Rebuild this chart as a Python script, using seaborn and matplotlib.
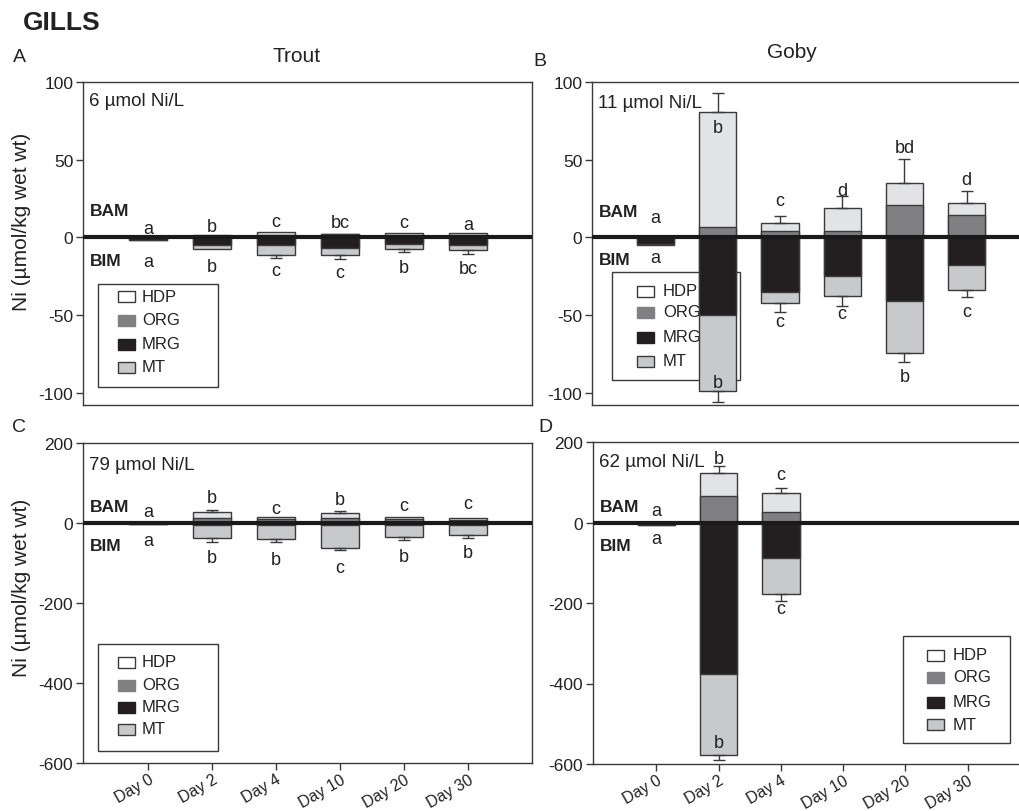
import numpy as np
import matplotlib
matplotlib.use("Agg")
import matplotlib.pyplot as plt
from matplotlib.patches import Rectangle
import seaborn as sns

# ---------------------------------------------------------------- data
days = ["Day 0", "Day 2", "Day 4", "Day 10", "Day 20", "Day 30"]
fractions = ["HDP", "ORG", "MRG", "MT"]

# Trout, 6 umol Ni/L  (BAM = ORG + HDP above zero, BIM = MRG + MT below zero)
org_A = np.array([0.0, 1.0, 1.3, 2.0, 1.3, 1.5])
hdp_A = np.array([0.0, 0.7, 2.2, 0.4, 1.7, 1.5])
mrg_A = np.array([2.0, 5.2, 4.8, 7.0, 4.1, 4.8])
mt_A = np.array([0.0, 2.6, 6.9, 4.7, 3.3, 3.7])
err_hi_A = np.array([np.nan, np.nan, np.nan, np.nan, np.nan, np.nan])
err_lo_A = np.array([np.nan, np.nan, 1.6, 2.0, 2.0, 2.0])
let_top_A = ["a", "b", "c", "bc", "c", "a"]
let_bot_A = ["a", "b", "c", "c", "b", "bc"]

# Goby, 11 umol Ni/L
org_B = np.array([0.5, 6.5, 4.3, 3.9, 20.7, 14.3])
hdp_B = np.array([0.0, 74.5, 4.8, 15.1, 14.1, 7.9])
mrg_B = np.array([4.5, 50.0, 35.4, 25.0, 41.3, 18.0])
mt_B = np.array([0.5, 49.0, 6.6, 12.6, 33.3, 15.7])
err_hi_B = np.array([np.nan, 12.0, 4.4, 7.5, 15.6, 7.4])
err_lo_B = np.array([np.nan, 7.0, 6.0, 6.4, 5.8, 4.8])
let_top_B = ["a", "b", "c", "d", "bd", "d"]
let_bot_B = ["a", "b", "c", "c", "b", "c"]

# Trout, 79 umol Ni/L
org_C = np.array([1.0, 12.0, 10.0, 13.0, 10.0, 7.5])
hdp_C = np.array([0.5, 14.7, 4.0, 11.0, 6.0, 4.2])
mrg_C = np.array([1.5, 4.0, 4.0, 4.0, 4.0, 4.0])
mt_C = np.array([1.0, 34.0, 36.0, 59.0, 32.0, 25.0])
err_hi_C = np.array([np.nan, 5.0, np.nan, 7.0, np.nan, np.nan])
err_lo_C = np.array([np.nan, 10.0, 6.7, 4.5, 6.5, 8.5])
let_top_C = ["a", "b", "c", "b", "c", "c"]
let_bot_C = ["a", "b", "b", "c", "b", "b"]

# Goby, 62 umol Ni/L (no sampling after day 4)
org_D = np.array([0.5, 64.6, 25.7, np.nan, np.nan, np.nan])
hdp_D = np.array([0.0, 59.4, 47.2, np.nan, np.nan, np.nan])
mrg_D = np.array([5.0, 376.0, 87.0, np.nan, np.nan, np.nan])
mt_D = np.array([0.5, 201.0, 91.0, np.nan, np.nan, np.nan])
err_hi_D = np.array([np.nan, 17.6, 14.0, np.nan, np.nan, np.nan])
err_lo_D = np.array([np.nan, 14.0, 17.5, np.nan, np.nan, np.nan])
let_top_D = ["a", "b", "c", "", "", ""]
let_bot_D = ["a", "b", "c", "", "", ""]

# heights at which the significance letters sit
let_top_y_A = [5.5, 7.0, 10.0, 9.5, 9.5, 8.2]
let_bot_y_A = [-15.6, -19.0, -21.5, -22.6, -19.3, -20.4]
let_top_y_B = [13.0, 70.6, 24.0, 30.0, 57.6, 37.4]
let_bot_y_B = [-13.0, -93.5, -54.0, -49.0, -89.6, -47.8]
let_top_y_C = [28.0, 64.0, 36.7, 58.0, 43.0, 47.5]
let_bot_y_C = [-44.0, -86.0, -91.7, -111.0, -83.0, -73.0]
let_top_y_D = [31.0, 160.0, 120.0, 0, 0, 0]
let_bot_y_D = [-39.0, -546.0, -213.0, 0, 0, 0]

# ---------------------------------------------------------------- style
sns.set_style("white")
plt.rcParams["font.family"] = ["Liberation Sans", "DejaVu Sans"]
plt.rcParams["axes.unicode_minus"] = False

C_HDP = "#e2e3e5"
C_ORG = "#808083"
C_MRG = "#231f20"
C_MT = "#c8c9cb"
C_EDGE = "#3a3a3a"
C_TXT = "#222222"

W, H = 1019, 812
fig = plt.figure(figsize=(W / 100, H / 100), dpi=100)


def fx(x):
    return x / W


def fy(y):
    return 1 - y / H


def panel(l, t, r, b):
    return fig.add_axes([fx(l), fy(b), fx(r) - fx(l), fy(t) - fy(b)])


axA = panel(83, 83, 532, 406)
axB = panel(592, 83, 1029, 406)
axC = panel(83, 444, 532, 764)
axD = panel(593, 443, 1030, 765)

idx = np.arange(len(days))


def stacked(ax, org, hdp, mrg, mt, err_hi, err_lo):
    bam = org + hdp
    bim = -(mrg + mt)
    common = dict(order=days, saturation=1, width=0.6, edgecolor=C_EDGE,
                  linewidth=1, errorbar=None, ax=ax, zorder=1)
    sns.barplot(x=days, y=bam, color=C_HDP, **common)
    sns.barplot(x=days, y=org, color=C_ORG, **common)
    sns.barplot(x=days, y=bim, color=C_MT, **common)
    sns.barplot(x=days, y=-mrg, color=C_MRG, **common)
    m = ~np.isnan(err_hi)
    if m.any():
        ax.errorbar(idx[m], bam[m], yerr=[np.zeros(m.sum()), err_hi[m]],
                    fmt="none", ecolor=C_EDGE, elinewidth=1, capsize=4.5,
                    capthick=1, zorder=2)
    m = ~np.isnan(err_lo)
    if m.any():
        ax.errorbar(idx[m], bim[m], yerr=[err_lo[m], np.zeros(m.sum())],
                    fmt="none", ecolor=C_EDGE, elinewidth=1, capsize=4.5,
                    capthick=1, zorder=2)
    ax.axhline(0, color="#1a1a1a", lw=3.0, zorder=3)


def letters(ax, top, top_y, bot, bot_y):
    for i, (s, y) in enumerate(zip(top, top_y)):
        if s:
            ax.text(i, y, s, ha="center", va="center", fontsize=13, color=C_TXT, zorder=4)
    for i, (s, y) in enumerate(zip(bot, bot_y)):
        if s:
            ax.text(i, y, s, ha="center", va="center", fontsize=13, color=C_TXT, zorder=4)


def legend_box(ax, box, rows_y, patch_x, text_x):
    l, t, r, b = box
    ax.add_patch(Rectangle((fx(l), fy(b)), fx(r) - fx(l), fy(t) - fy(b),
                           transform=fig.transFigure, facecolor="white",
                           edgecolor=C_EDGE, lw=1, zorder=0.5, clip_on=False))
    fills = {"HDP": "white", "ORG": C_ORG, "MRG": C_MRG, "MT": C_MT}
    edges = {"HDP": C_EDGE, "ORG": C_ORG, "MRG": C_MRG, "MT": C_EDGE}
    for name, yc in zip(fractions, rows_y):
        ax.add_patch(Rectangle((fx(patch_x), fy(yc + 5.5)), fx(17), 11 / H,
                               transform=fig.transFigure, facecolor=fills[name],
                               edgecolor=edges[name], lw=1, zorder=0.6, clip_on=False))
        ax.text(fx(text_x), fy(yc), name, transform=fig.transFigure, ha="left",
                va="center", fontsize=12, color=C_TXT, zorder=0.7)


stacked(axA, org_A, hdp_A, mrg_A, mt_A, err_hi_A, err_lo_A)
stacked(axB, org_B, hdp_B, mrg_B, mt_B, err_hi_B, err_lo_B)
stacked(axC, org_C, hdp_C, mrg_C, mt_C, err_hi_C, err_lo_C)
stacked(axD, org_D, hdp_D, mrg_D, mt_D, err_hi_D, err_lo_D)

letters(axA, let_top_A, let_top_y_A, let_bot_A, let_bot_y_A)
letters(axB, let_top_B, let_top_y_B, let_bot_B, let_bot_y_B)
letters(axC, let_top_C, let_top_y_C, let_bot_C, let_bot_y_C)
letters(axD, let_top_D, let_top_y_D, let_bot_D, let_bot_y_D)

legend_box(axA, (98, 285, 218, 388), [297, 321, 345, 368], 118, 142)
legend_box(axB, (612, 273, 740, 381), [292, 313, 338, 362], 637, 663)
legend_box(axC, (98, 645, 218, 752), [663, 686, 708, 730], 118, 142)
legend_box(axD, (903, 637, 1010, 744), [656, 678, 703, 725], 927, 953)

conc = {axA: ("6 \u00b5mol Ni/L", 88), axB: ("11 \u00b5mol Ni/L", 87),
        axC: ("79 \u00b5mol Ni/L", 147), axD: ("62 \u00b5mol Ni/L", 151)}
bam_bim_y = {axA: (17, -15), axB: (16.3, -14), axC: (40, -57), axD: (40, -57)}

for ax, lim, ticks in [(axA, (-108, 100), [-100, -50, 0, 50, 100]),
                       (axB, (-108, 100), [-100, -50, 0, 50, 100]),
                       (axC, (-600, 200), [-600, -400, -200, 0, 200]),
                       (axD, (-600, 200), [-600, -400, -200, 0, 200])]:
    ax.set_ylim(*lim)
    ax.set_yticks(ticks)
    ax.set_yticklabels([str(t) for t in ticks])
    ax.set_xlim(-1.02, 6.0)
    ax.set_xlabel("")
    ax.set_ylabel("")
    for sp in ax.spines.values():
        sp.set_visible(True)
        sp.set_color(C_EDGE)
        sp.set_linewidth(1)
    ax.tick_params(axis="y", direction="out", length=5, width=1, colors=C_EDGE,
                   labelcolor=C_TXT, labelsize=12.5, pad=2, left=True)
    ax.tick_params(axis="x", direction="out", length=5, width=1, colors=C_EDGE,
                   labelcolor=C_TXT, labelsize=11.5, pad=1, bottom=True)
    s, y = conc[ax]
    ax.text(-0.93, y, s, ha="left", va="center", fontsize=13.5, color=C_TXT, zorder=4)
    yb, yi = bam_bim_y[ax]
    ax.text(-0.91, yb, "BAM", ha="left", va="center", fontsize=12.5,
            fontweight="bold", color=C_TXT, zorder=4)
    ax.text(-0.91, yi, "BIM", ha="left", va="center", fontsize=12.5,
            fontweight="bold", color=C_TXT, zorder=4)

for ax in (axA, axB):
    ax.tick_params(axis="x", bottom=False, labelbottom=False)
for ax in (axC, axD):
    ax.set_xticks(idx)
    ax.set_xticklabels(days)
    plt.setp(ax.get_xticklabels(), rotation=30, ha="right", rotation_mode="anchor")

# figure-level titles and labels
fig.text(fx(23), fy(23), "GILLS", ha="left", va="center", fontsize=19,
         fontweight="bold", color=C_TXT)
fig.text(fx(13), fy(58), "A", ha="left", va="center", fontsize=14, color=C_TXT)
fig.text(fx(533), fy(61), "B", ha="left", va="center", fontsize=14, color=C_TXT)
fig.text(fx(12), fy(428), "C", ha="left", va="center", fontsize=14, color=C_TXT)
fig.text(fx(538), fy(428), "D", ha="left", va="center", fontsize=14, color=C_TXT)
fig.text(fx(297), fy(56), "Trout", ha="center", va="center", fontsize=15, color=C_TXT)
fig.text(fx(792), fy(52), "Goby", ha="center", va="center", fontsize=15, color=C_TXT)
for yc in (222, 588):
    fig.text(fx(22), fy(yc), "Ni (\u00b5mol/kg wet wt)", rotation=90, ha="center",
             va="center", fontsize=15, color=C_TXT)

fig.savefig("out.png", dpi=100)
